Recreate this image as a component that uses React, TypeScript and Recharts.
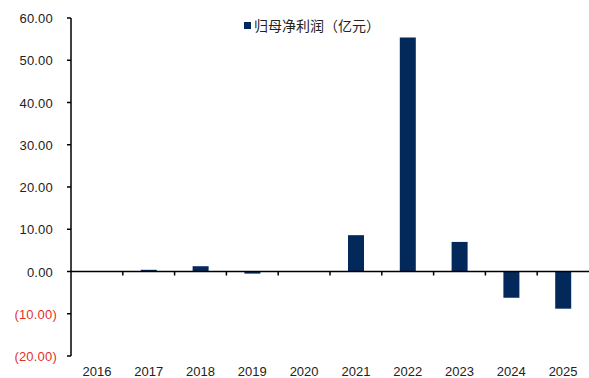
import React from 'react';
import { BarChart, Bar, XAxis, YAxis, ReferenceLine, Legend } from 'recharts';

if (typeof document !== 'undefined') document.body.style.margin = '0';

const years = ['2016', '2017', '2018', '2019', '2020', '2021', '2022', '2023', '2024', '2025'];
const netProfit = [0, 0.4, 1.25, -0.5, 0, 8.6, 55.4, 7.0, -6.2, -8.8];
const yTicks = [-20, -10, 0, 10, 20, 30, 40, 50, 60];
const seriesName = '归母净利润（亿元）';

const navy = '#03295a';
const red = '#e4312b';
const font = '"Liberation Sans", Arial, "Noto Sans CJK SC", sans-serif';

const data = years.map((year, i) => ({ year, profit: netProfit[i] }));

function YTick(props: any) {
  const { x, y, payload } = props;
  const v = payload.value as number;
  const label = v < 0 ? `(${Math.abs(v).toFixed(2)})` : v.toFixed(2);
  return (
    <text x={x} y={y} dx={v < 0 ? 2 : -2} dy={5} textAnchor="end" fontSize={13} fontFamily={font} letterSpacing={0.2} fill={v < 0 ? red : '#222'}>
      {label}
    </text>
  );
}

function XTick(props: any) {
  const { x, y, payload } = props;
  return (
    <text x={x} y={y} dy={12} textAnchor="middle" fontSize={13} fontFamily={font} fill="#222">
      {payload.value}
    </text>
  );
}

// zero line with small ticks between the categories
function ZeroLine(props: any) {
  const { x1, x2, y1 } = props;
  const step = (x2 - x1) / years.length;
  return (
    <g>
      <line x1={x1} x2={x2} y1={y1} y2={y1} stroke="#000" strokeWidth={1.5} />
      {years.slice(1).map((_, i) => (
        <line key={i} x1={x1 + step * (i + 1)} x2={x1 + step * (i + 1)} y1={y1} y2={y1 + 4} stroke="#000" strokeWidth={1.5} />
      ))}
    </g>
  );
}

function LegendBox(props: any) {
  const { payload } = props;
  return (
    <div style={{ display: 'flex', alignItems: 'center' }}>
      {(payload || []).map((p: any) => (
        <span key={p.value} style={{ display: 'flex', alignItems: 'center', fontSize: 14, color: '#222', fontFamily: '"Noto Sans CJK SC", sans-serif' }}>
          <span style={{ width: 7, height: 7, background: navy, display: 'inline-block', marginRight: 3 }} />
          {p.value}
        </span>
      ))}
    </div>
  );
}

export default function App() {
  return (
    <BarChart width={589} height={378} data={data} margin={{ top: 18, right: 0, left: 0, bottom: 0 }}>
      <XAxis
        dataKey="year"
        axisLine={false}
        tickLine={false}
        interval={0}
        height={22}
        tick={<XTick />}
      />
      <YAxis
        width={71}
        domain={[-20, 60]}
        ticks={yTicks}
        interval={0}
        axisLine={{ stroke: '#000', strokeWidth: 1.5 }}
        tickLine={{ stroke: '#000', strokeWidth: 1.5 }}
        tickSize={4}
        tickMargin={12}
        tick={<YTick />}
      />
      <Legend
        verticalAlign="middle"
        align="center"
        content={<LegendBox />}
        wrapperStyle={{ top: 15, left: 244, width: 'auto' }}
      />
      <ReferenceLine y={0} shape={<ZeroLine />} ifOverflow="visible" />
      <Bar dataKey="profit" name={seriesName} fill={navy} barSize={16} isAnimationActive={false} />
    </BarChart>
  );
}
